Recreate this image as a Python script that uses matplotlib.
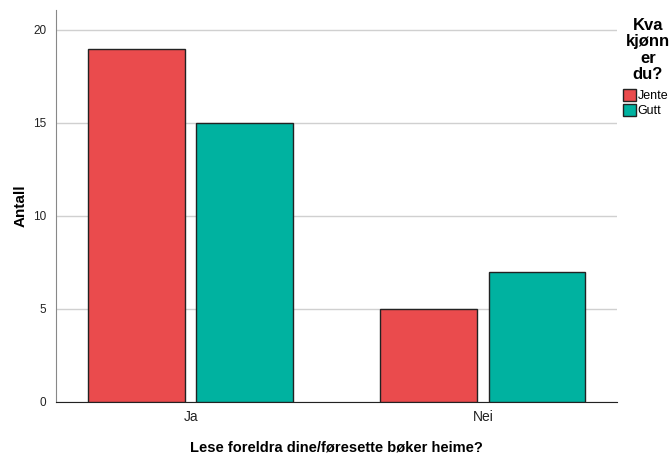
import numpy as np
import matplotlib.pyplot as plt

plt.rcParams['font.family'] = ['Liberation Sans', 'DejaVu Sans']

categories = ['Ja', 'Nei']
groups = ['Jente', 'Gutt']
counts = {
    'Jente': [19, 5],
    'Gutt': [15, 7],
}
colors = {'Jente': '#EA4B4D', 'Gutt': '#00B2A0'}

W, H = 671, 457
fig = plt.figure(figsize=(W / 100, H / 100), dpi=100)
ax = fig.add_axes([56 / W, 55 / H, 561 / W, 392 / H])

x = np.arange(len(categories))
width = 0.332
gap = 0.038
offsets = [-(width + gap) / 2, (width + gap) / 2]

for g, off in zip(groups, offsets):
    ax.bar(x + off, counts[g], width, color=colors[g], edgecolor='#222222',
           linewidth=1.0, label=g, zorder=3)

ax.set_xlim(-0.462, 1.459)
ax.set_ylim(0, 21.07)
ax.set_yticks([0, 5, 10, 15, 20])
ax.set_xticks(x)
ax.set_xticklabels(categories)
ax.yaxis.grid(True, color='#d0d0d0', linewidth=1.0, zorder=0)
ax.tick_params(axis='y', length=0, labelsize=8.5, colors='#222222', pad=7)
ax.tick_params(axis='x', length=0, labelsize=10, colors='#222222', pad=6)

for s in ['top', 'right']:
    ax.spines[s].set_visible(False)
ax.spines['left'].set_color('#888888')
ax.spines['bottom'].set_color('#222222')

ax.set_ylabel('Antall', fontsize=11, fontweight='bold', labelpad=4)
ax.set_xlabel('Lese foreldra dine/føresette bøker heime?', fontsize=10.5,
              fontweight='bold', labelpad=12)

# legend title drawn separately, SPSS style
fig.text(648 / W, 1 - 18 / H, 'Kva\nkjønn\ner\ndu?', ha='center', va='top',
         fontsize=12, fontweight='bold', linespacing=1.12)

leg = fig.legend(loc='upper left', bbox_to_anchor=(620 / W, 1 - 86 / H),
                 frameon=False, fontsize=9, handlelength=1.05, handleheight=1.1,
                 handletextpad=0.15, borderaxespad=0, borderpad=0.2,
                 labelspacing=0.15)

fig.savefig('out.png', dpi=100)
